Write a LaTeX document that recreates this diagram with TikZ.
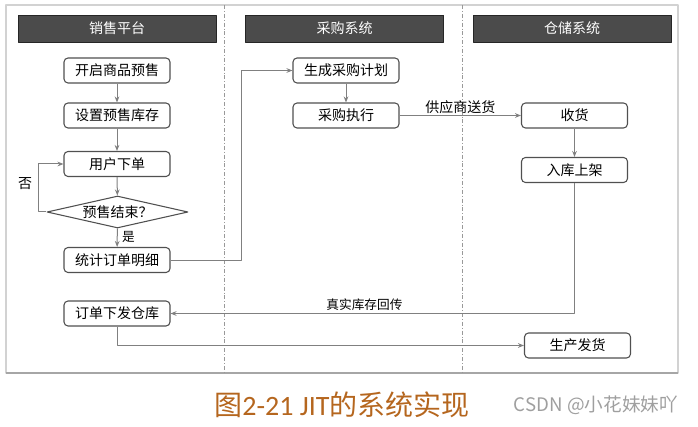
\documentclass[tikz,border=0pt]{standalone}
\usepackage{fontspec}
\setmainfont{Noto Sans CJK SC}
\newfontfamily\capfont{Carlito}
\usetikzlibrary{shapes.geometric,arrows.meta}
\definecolor{headgray}{HTML}{4B4B4B}
\definecolor{linegray}{HTML}{808080}
\definecolor{boxgray}{HTML}{505050}
\definecolor{framegray}{HTML}{D2D2D2}
\definecolor{capbrown}{HTML}{B5661E}
\tikzset{
	stepbox/.style={draw=boxgray, line width=0.8pt, rounded corners=3pt, fill=white, minimum width=79.5pt, minimum height=18.75pt, inner sep=0pt, font=\fontsize{10.5}{12}\selectfont},
	headbar/.style={draw=black!85, fill=headgray, text=white, minimum width=148.5pt, minimum height=20.25pt, inner sep=0pt, font=\fontsize{10.5}{12}\selectfont},
	conn/.style={draw=linegray, line width=0.75pt, ->},
	lanesep/.style={draw=gray!80, line width=0.5pt, dash pattern=on 3pt off 1.5pt on 0.6pt off 1.5pt}
}
\begin{document}
\begin{tikzpicture}[x=0.75pt, y=-0.75pt, font=\fontsize{10.5}{12}\selectfont, line join=round, >={Stealth[length=4.5pt,width=3.5pt]}]
		\useasboundingbox (0,0) rectangle (698,427);
		% frame and lanes
		\draw[framegray, line width=1pt] (6,5) rectangle (678,373);
		\draw[gray!70, line width=1.5pt] (6,373) -- (678,373);
		\draw[lanesep] (224,5) -- (224,373);
		\draw[lanesep] (462,5) -- (462,373);
		\node[headbar] (salehead) at (117,28.5) {销售平台};
		\node[headbar] (buyhead) at (344.5,28.5) {采购系统};
		\node[headbar] (storehead) at (572,28.5) {仓储系统};
		% sales platform
		\node[stepbox] (presale) at (117,70.5) {开启商品预售};
		\node[stepbox] (setstock) at (117,115.5) {设置预售库存};
		\node[stepbox] (order) at (117,164) {用户下单};
		\node[draw=boxgray, line width=0.8pt, fill=white, diamond, shape aspect=4.4, minimum width=105.75pt, minimum height=24pt, inner sep=0pt] (isover) at (117.5,212) {预售结束？};
		\node[stepbox] (stats) at (117,260) {统计订单明细};
		\node[stepbox] (dispatch) at (117,313.5) {订单下发仓库};
		% purchase system
		\node[stepbox] (plan) at (346,70.5) {生成采购计划};
		\node[stepbox] (exec) at (346,115.5) {采购执行};
		% storage system
		\node[stepbox] (receive) at (574.5,115.5) {收货};
		\node[stepbox] (shelve) at (574.5,170) {入库上架};
		\node[stepbox] (ship) at (577.5,345.5) {生产发货};
		% connectors
		\draw[conn] (presale) -- (setstock);
		\draw[conn] (setstock) -- (order);
		\draw[conn] (order) -- (isover);
		\draw[conn] (isover.west) -- ++(-8,0) |- node[pos=0.3, left, xshift=-1pt] {否} (order.west);
		\draw[conn] (isover) -- node[right, pos=0.45, font=\fontsize{9.5}{11}\selectfont] {是} (stats);
		\draw[conn] (stats.east) -- ++(71,0) |- (plan.west);
		\draw[conn] (plan) -- (exec);
		\draw[conn] (exec) -- node[above, inner sep=1pt] {供应商送货} (receive);
		\draw[conn] (receive) -- (shelve);
		\draw[conn] (shelve.south) |- node[pos=0.76, above, inner sep=2pt, font=\fontsize{9.5}{11}\selectfont] {真实库存回传} (dispatch.east);
		\draw[conn] (dispatch.south) |- (ship.west);
		% caption
		\node[text=capbrown, font=\fontsize{21}{24}\selectfont] (caption) at (342,405) {图{\capfont 2-21 JIT}的系统实现};
		\node[text=gray!75, font=\fontsize{14}{16}\selectfont] (mark) at (596,405) {CSDN @小花妹妹吖};
	\end{tikzpicture}
\end{document}
